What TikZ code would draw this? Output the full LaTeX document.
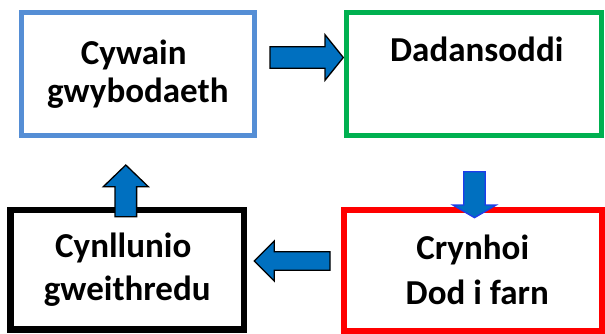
\documentclass[tikz,border=0pt]{standalone}
\usepackage{fontspec}
\setmainfont{Carlito}
\definecolor{boxblue}{RGB}{85,142,213}
\definecolor{boxgreen}{RGB}{0,176,80}
\definecolor{boxred}{RGB}{255,0,0}
\definecolor{arrowfill}{RGB}{0,112,192}
\definecolor{arrowedge}{RGB}{30,60,235}
\tikzset{
  stagebox/.style={draw, inner sep=0pt, align=center, text=black,
    font=\bfseries\fontsize{35}{38.3}\selectfont},
  blockarrow/.style={fill=arrowfill, draw=black, line width=1.3pt, line join=miter},
}
% #1 style, #2 tip coordinate, #3 rotation, #4 length, #5 head length, #6 head half width, #7 body half width
\newcommand{\barrow}[7]{%
  \begin{scope}[shift={(#2)}, rotate=#3]
    \draw[#1] (0,0) -- (-#5,#6) -- (-#5,#7) -- (-#4,#7) -- (-#4,-#7)
      -- (-#5,-#7) -- (-#5,-#6) -- cycle;
  \end{scope}}
\begin{document}
\begin{tikzpicture}[x=1pt,y=-1pt]
  \useasboundingbox (0,0) rectangle (605,333);
  \node[stagebox, draw=boxblue, line width=5pt, minimum width=233.5pt, minimum height=123pt]
    (b1) at (137.75,74) {Cywain\kern8pt\\gwybodaeth};
  \node[stagebox, draw=boxgreen, line width=5pt, minimum width=255.5pt, minimum height=123pt]
    (b2) at (473.75,74) {\kern6pt Dadansoddi\\[5.4pt]\phantom{g}};
  \node[stagebox, draw=boxred, line width=6pt, minimum width=258.5pt, minimum height=120.5pt,
    font=\bfseries\fontsize{35}{45}\selectfont]
    (b3) at (472.75,270.25) {Crynhoi\\\kern9pt Dod i farn};
  \node[stagebox, draw=black, line width=6.5pt, minimum width=233.5pt, minimum height=119.5pt,
    font=\bfseries\fontsize{35}{43.3}\selectfont]
    (b4) at (127.25,269.75) {Cynllunio\kern8pt\\gweithredu};
  % arrow tips
  \coordinate (t1) at (343.3,57.5);
  \coordinate (t2) at (474.5,217.7);
  \coordinate (t3) at (254.3,261);
  \coordinate (t4) at (125.8,165);
  \barrow{blockarrow}{t1}{0}{73.3}{18.3}{22.8}{10.8}
  \barrow{blockarrow, draw=arrowedge}{t2}{-90}{46}{12.7}{21.7}{10.8}
  \barrow{blockarrow}{t3}{180}{75.7}{20}{20}{9.2}
  \barrow{blockarrow}{t4}{90}{51.7}{21.7}{22.5}{10.8}
\end{tikzpicture}
\end{document}
